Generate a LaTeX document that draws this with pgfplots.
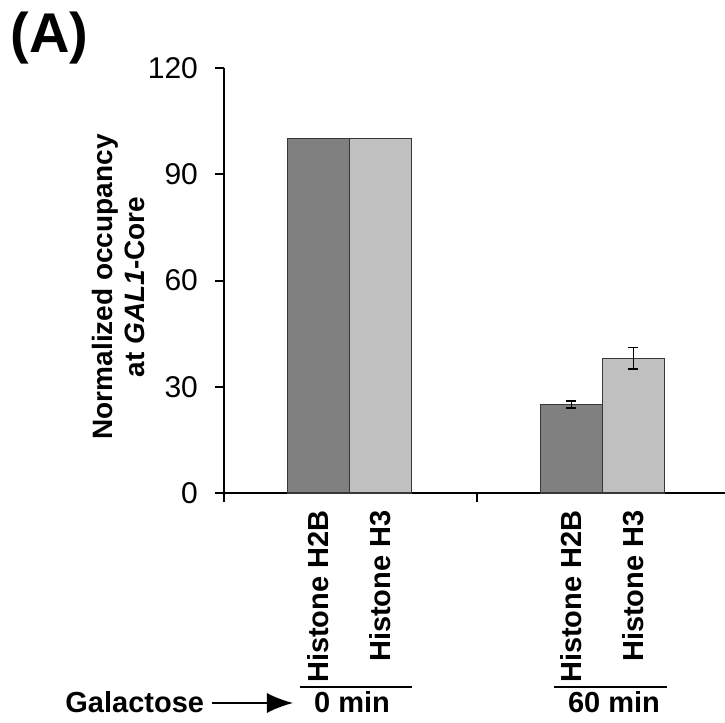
\documentclass[border=0pt]{standalone}
\usepackage{fontspec}
\setmainfont{Liberation Sans}
\usepackage{pgfplots}
\pgfplotsset{compat=1.18}
\usetikzlibrary{arrows.meta}
\definecolor{darkbar}{RGB}{128,128,128}
\definecolor{lightbar}{RGB}{192,192,192}
\definecolor{edge}{RGB}{55,55,55}

\begin{document}
\begin{tikzpicture}[lab/.style={inner sep=0pt, font=\bfseries\fontsize{14.5}{17}\selectfont}]
\begin{axis}[
  scale only axis, width=250.5pt, height=212.5pt,
  xmin=-0.5, xmax=1.5, ymin=0, ymax=120,
  axis x line*=bottom, axis y line*=left,
  axis line style={line width=1pt},
  ytick={0,30,60,90,120},
  xtick={-0.5,0.51}, xticklabels={},
  tick align=outside, major tick length=4.5pt,
  tick style={line width=1pt, black},
  ticklabel style={font=\fontsize{15}{17}\selectfont},
  yticklabel style={xshift=-5pt},
  /pgf/number format/assume math mode=true,
  ylabel={Normalized occupancy\\at \textit{GAL1}-Core},
  ylabel style={align=center, font=\bfseries\fontsize{14}{16}\selectfont,
    at={(axis description cs:-0.21,0.485)}, anchor=center},
  ybar, bar width=0.2475,
  clip=false,
]
% 0 min
\addplot[fill=darkbar, draw=edge, line width=0.5pt, bar shift=-0.124] coordinates {(0,100)};
\addplot[fill=lightbar, draw=edge, line width=0.5pt, bar shift=0.124] coordinates {(0,100)};
% 60 min, with error bars
\addplot[fill=darkbar, draw=edge, line width=0.5pt, bar shift=-0.124,
  error bars/.cd, y dir=both, y explicit,
  error bar style={black, line width=0.6pt},
  error mark options={black, rotate=90, mark size=2.5pt, line width=0.6pt}]
  coordinates {(1.01,25) +- (0,1)};
\addplot[fill=lightbar, draw=edge, line width=0.5pt, bar shift=0.124,
  error bars/.cd, y dir=both, y explicit,
  error bar style={black, line width=0.6pt},
  error mark options={black, rotate=90, mark size=2.5pt, line width=0.6pt}]
  coordinates {(1.01,38) +- (0,3)};

\coordinate (O) at (rel axis cs:0,0);
\node[lab, yshift=-8.5pt, rotate=90, anchor=east] at (axis cs:-0.124,0) {Histone H2B};
\node[lab, yshift=-8.5pt, rotate=90, anchor=east] at (axis cs:0.124,0) {Histone H3};
\node[lab, yshift=-8.5pt, rotate=90, anchor=east] at (axis cs:0.886,0) {Histone H2B};
\node[lab, yshift=-8.5pt, rotate=90, anchor=east] at (axis cs:1.134,0) {Histone H3};
\end{axis}

\begin{scope}[shift={(O)}]
\node[anchor=base west, inner sep=0pt, font=\bfseries\fontsize{28}{30}\selectfont] at (-107pt,220pt) {(A)};
\draw[line width=1pt] (38pt,-97pt) -- (94pt,-97pt);
\draw[line width=1pt] (165pt,-97pt) -- (221.5pt,-97pt);
\node[lab, anchor=base] at (64pt,-110pt) {0 min};
\node[lab, anchor=base] at (195pt,-110pt) {60 min};
\node[lab, anchor=base west] at (-79.5pt,-110pt) {Galactose};
\draw[line width=0.8pt, -{Latex[length=13pt, width=10pt]}] (-6pt,-105pt) -- (34.5pt,-105pt);
\pgfresetboundingbox
\path[use as bounding box] (-112pt,-115pt) rectangle (250.5pt,246.5pt);
\end{scope}
\end{tikzpicture}
\end{document}
